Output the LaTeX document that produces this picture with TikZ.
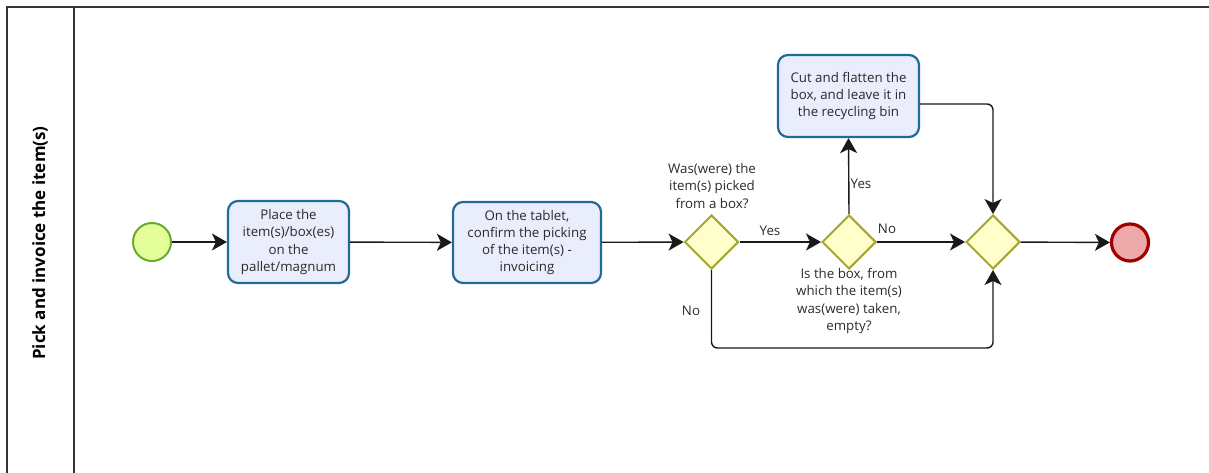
\documentclass[tikz,border=0pt]{standalone}
\usepackage{fontspec}
\setmainfont{Open Sans}
\usetikzlibrary{shapes.geometric,arrows.meta}
\definecolor{taskfill}{HTML}{EAEEFC}
\definecolor{taskline}{HTML}{1F6B99}
\definecolor{gwfill}{HTML}{FFFFCC}
\definecolor{gwline}{HTML}{A5A532}
\definecolor{startfill}{HTML}{E4FF99}
\definecolor{startline}{HTML}{6CAA2C}
\definecolor{endfill}{HTML}{EDA9A9}
\definecolor{endline}{HTML}{A20000}
\definecolor{ink}{HTML}{2A2A2A}
\tikzset{
  task/.style={draw=taskline, fill=taskfill, line width=2.2pt, rounded corners=10pt,
    align=center, text=ink, font=\fontsize{13.3}{17.3}\selectfont, inner sep=0pt},
  gateway/.style={diamond, draw=gwline, fill=gwfill, line width=2pt, inner sep=0pt,
    minimum width=54pt, minimum height=54pt, aspect=1},
  startev/.style={circle, draw=startline, fill=startfill, line width=2pt, minimum size=38pt, inner sep=0pt},
  endev/.style={circle, draw=endline, fill=endfill, line width=3.2pt, minimum size=37pt, inner sep=0pt},
  flow/.style={draw=black!90, line width=1.4pt, -{Stealth[length=15pt,width=17pt,inset=4pt]}},
  lbl/.style={text=ink, font=\fontsize{13.3}{17.3}\selectfont, align=center, inner sep=0pt},
  pool/.style={draw=black!80, line width=1.6pt}
}
\begin{document}
\begin{tikzpicture}[x=1pt,y=-1pt]
\useasboundingbox (0,0) rectangle (1209,473);
% pool and lane frame
\draw[pool] (1209,7) -- (7,7) -- (7,473);
\draw[pool] (74,7) -- (74,473);
\node[rotate=90, font=\fontsize{17}{20}\selectfont\bfseries, text=black] (pooltitle) at (40,243) {Pick and invoice the item(s)};

% events, tasks and gateways
\node[startev] (start) at (152,242) {};
\node[task, minimum width=121pt, minimum height=82pt] (t1) at (288.5,242) {Place the\\item(s)/box(es)\\on the\\pallet/magnum};
\node[task, minimum width=148pt, minimum height=81pt] (t2) at (527,242.5) {On the tablet,\\confirm the picking\\of the item(s) -\\invoicing};
\node[gateway] (g1) at (711.5,242) {};
\node[gateway] (g2) at (849,242) {};
\node[gateway] (g3) at (993,242) {};
\node[task, minimum width=141pt, minimum height=82pt] (t3) at (848.5,96) {Cut and flatten the\\box, and leave it in\\the recycling bin};
\node[endev] (end) at (1130,242.5) {};

% labels
\node[lbl] (q1) at (712,186) {Was(were) the\\item(s) picked\\from a box?};
\node[lbl] (q2) at (849,301) {Is the box, from\\which the item(s)\\was(were) taken,\\empty?};
\node[lbl] (yes1) at (770,231) {Yes};
\node[lbl] (yes2) at (861,184) {Yes};
\node[lbl] (no1) at (887,229) {No};
\node[lbl] (no2) at (691,311) {No};

% sequence flows
\draw[flow] (start) -- (t1);
\draw[flow] (t1) -- (t2);
\draw[flow] (t2) -- (g1);
\draw[flow] (g1) -- (g2);
\draw[flow] (g2) -- (g3);
\draw[flow] (g3) -- (end);
\draw[flow] (g2.north) -- (t3.south);
\draw[flow, rounded corners=6pt] (t3.east |- 0,104) -- (993,104) -- (g3.north);
\draw[flow, rounded corners=6pt] (g1.south) -- (711.5,348) -- (993,348) -- (g3.south);
\end{tikzpicture}
\end{document}
